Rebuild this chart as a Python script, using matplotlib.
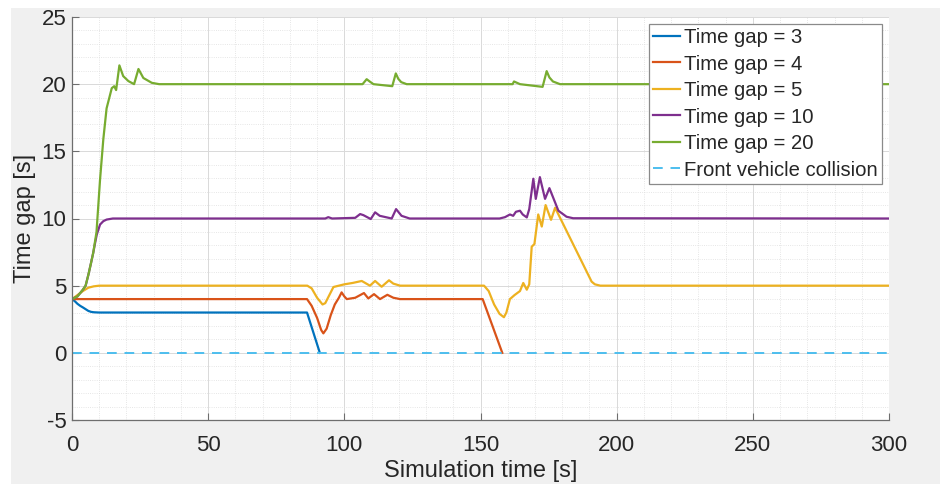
import matplotlib
matplotlib.use("Agg")
import matplotlib.pyplot as plt
from matplotlib.patches import Rectangle
from matplotlib.ticker import MultipleLocator

plt.rcParams['font.family'] = ['Liberation Sans', 'DejaVu Sans']
plt.rcParams['axes.unicode_minus'] = False

# ---- data ----
t_gap3 = [0, 1, 2, 3, 4, 5, 6, 7, 8, 10, 86.3, 91]
v_gap3 = [4, 3.85, 3.65, 3.5, 3.38, 3.25, 3.12, 3.05, 3.02, 3.0, 3.0, 0]

t_gap4 = [0, 86.3, 88, 90, 91.5, 92.3, 93.5, 95, 96.5, 98, 99, 100, 100.9, 104, 107.2,
          108.8, 110.9, 113.1, 115.8, 118, 120.5, 150.8, 158]
v_gap4 = [4, 4, 3.5, 2.6, 1.7, 1.45, 1.8, 2.8, 3.6, 4.1, 4.5, 4.2, 4.0, 4.1, 4.45,
          4.05, 4.37, 4.0, 4.32, 4.1, 4.0, 4.0, 0]

t_gap5 = [0, 2, 4, 6, 8, 10, 86.4, 88, 90, 92, 93, 94.5, 96, 98, 100, 103, 106.4, 109.4,
          111.3, 113.7, 116.4, 118, 120.5, 151.3, 153, 155, 157, 158.6, 159.5, 160.8,
          162.5, 164.5, 165.7, 167, 167.9, 168.8, 169.8, 171.2, 172.5, 173.9, 175.9,
          177.4, 190.8, 192, 194, 300]
v_gap5 = [4, 4.3, 4.6, 4.85, 4.95, 5.0, 5.0, 4.8, 4.1, 3.6, 3.7, 4.3, 4.9, 5.0, 5.1, 5.2,
          5.35, 5.0, 5.35, 4.92, 5.4, 5.15, 5.0, 5.0, 4.6, 3.6, 2.9, 2.65, 3.0, 4.0,
          4.3, 4.6, 5.2, 4.7, 5.1, 7.9, 8.1, 10.3, 9.4, 11.0, 9.9,
          10.8, 5.3, 5.1, 5.0, 5.0]

t_gap10 = [0, 2, 4, 5, 6, 7, 7.8, 8.5, 9.1, 10.3, 11.5, 12.7, 15, 93, 94.1, 95.5, 104,
           105.8, 107, 109.7, 111.3, 113, 117.4, 119, 121, 124, 157, 159, 160.8, 162,
           163, 164.5, 165.5, 167, 167.9, 169.4, 170.3, 171.8, 173.7, 175.3, 178.6,
           181.6, 184, 300]
v_gap10 = [4, 4.2, 4.7, 5.0, 5.8, 6.7, 7.45, 8.2, 8.8, 9.55, 9.8, 9.92, 10.0, 10.0, 10.1,
           10.0, 10.05, 10.33, 10.25, 9.96, 10.46, 10.2, 10.0, 10.7, 10.2, 10.0, 10.0,
           10.1, 10.3, 10.2, 10.5, 10.58, 10.3, 10.08, 10.7, 12.96, 11.46, 13.08, 11.46,
           12.26, 10.58, 10.13, 10.02, 10.0]

t_gap20 = [0, 2, 4, 5, 6, 7, 7.8, 9, 10.3, 11.5, 12.7, 14.6, 15.5, 16.2, 17.4, 18.8,
           20.7, 22.8, 24.4, 26.2, 29.3, 32, 106.7, 108.2, 109.3, 110.7, 117.6, 118.9,
           119.8, 120.9, 122.9, 161.8, 162.3, 164.5, 172.8, 174.3, 175.3, 176.6, 179.2, 300]
v_gap20 = [4, 4.2, 4.7, 5.0, 5.8, 6.7, 7.45, 9.0, 12.9, 15.9, 18.2, 19.7, 19.85, 19.56,
           21.4, 20.6, 20.23, 20.0, 21.13, 20.46, 20.1, 20.0, 20.0, 20.37, 20.2, 20.0,
           19.85, 20.8, 20.4, 20.15, 20.0, 20.0, 20.2, 20.0, 19.8, 20.97, 20.5, 20.2,
           20.0, 20.0]

t_collision = [0, 300]
v_collision = [0, 0]

series = [
    (t_gap3, v_gap3, "Time gap = 3", "#0072BD"),
    (t_gap4, v_gap4, "Time gap = 4", "#D95319"),
    (t_gap5, v_gap5, "Time gap = 5", "#EDB120"),
    (t_gap10, v_gap10, "Time gap = 10", "#7E2F8E"),
    (t_gap20, v_gap20, "Time gap = 20", "#77AC30"),
]

x_ticks = [0, 50, 100, 150, 200, 250, 300]
y_ticks = [-5, 0, 5, 10, 15, 20, 25]

# ---- figure ----
fig = plt.figure(figsize=(9.4, 4.84), dpi=100, facecolor="#f0f0f0")
# white strips at the top and left edges of the screenshot
fig.patches.append(Rectangle((0, 1 - 8 / 484), 1, 8 / 484, transform=fig.transFigure,
                             facecolor="white", edgecolor="none", zorder=-1))
fig.patches.append(Rectangle((0, 0), 11 / 940, 1, transform=fig.transFigure,
                             facecolor="white", edgecolor="none", zorder=-1))

ax = fig.add_axes([72 / 940, 1 - 420 / 484, (889 - 72) / 940, (420 - 17) / 484])
ax.set_facecolor("white")

for t, v, lab, c in series:
    ax.plot(t, v, color=c, lw=1.6, label=lab)
ax.plot(t_collision, v_collision, color="#4DBEEE", lw=1.4, ls=(0, (5, 4)),
        label="Front vehicle collision")

ax.set_xlim(0, 300)
ax.set_ylim(-5, 25)
ax.set_xticks(x_ticks)
ax.set_yticks(y_ticks)
ax.xaxis.set_minor_locator(MultipleLocator(10))
ax.yaxis.set_minor_locator(MultipleLocator(1))

ax.grid(True, which="major", color="#d9d9d9", lw=0.7, ls="-")
ax.grid(True, which="minor", color="#dedede", lw=0.6, ls=":")
ax.set_axisbelow(True)

for s in ["top", "right"]:
    ax.spines[s].set_visible(False)
for s in ["left", "bottom"]:
    ax.spines[s].set_color("#6e6e6e")
    ax.spines[s].set_linewidth(0.9)

ax.tick_params(which="major", direction="in", length=5, color="#6e6e6e",
               labelsize=16, labelcolor="#262626")
ax.tick_params(axis="y", which="major", pad=4)
ax.tick_params(axis="x", which="major", pad=11)
ax.tick_params(which="minor", length=0)

ax.set_xlabel("Simulation time [s]", fontsize=17, color="#262626", labelpad=3)
ax.set_ylabel("Time gap [s]", fontsize=17, color="#262626", labelpad=4)

leg = ax.legend(loc="upper right", bbox_to_anchor=(1 - 7 / 817, 1 - 7 / 403),
                fontsize=14.6, frameon=True, fancybox=False, framealpha=1,
                edgecolor="#8a8a8a", handlelength=1.35, handletextpad=0.2,
                borderpad=0.2, labelspacing=0.37, borderaxespad=0)
leg.get_frame().set_linewidth(0.9)
for txt in leg.get_texts():
    txt.set_color("#262626")

fig.savefig("out.png", dpi=100, facecolor=fig.get_facecolor())
